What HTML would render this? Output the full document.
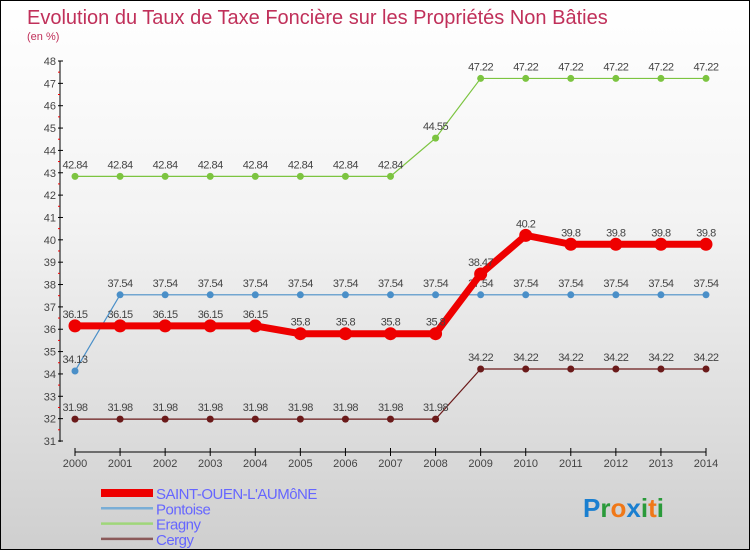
<!DOCTYPE html>
<html><head><meta charset="utf-8"><style>
body{margin:0}
#c{width:748px;height:548px;border:1px solid #000;background:linear-gradient(#fff,#f3f3f3 40%,#cfcfcf);position:relative;font-family:"Liberation Sans",sans-serif}
</style></head><body>
<div id="c">
<svg id="s" width="748" height="548">
<text x="26" y="23" font-size="20" fill="#c0305a">Evolution du Taux de Taxe Foncière sur les Propriétés Non Bâties</text>
<text x="26" y="39" font-size="11" fill="#c0305a">(en %)</text>
</svg>
</div>
<script>
const years=[2000,2001,2002,2003,2004,2005,2006,2007,2008,2009,2010,2011,2012,2013,2014];
const yTicks=[31,32,33,34,35,36,37,38,39,40,41,42,43,44,45,46,47,48];
const saintOuen=[36.15,36.15,36.15,36.15,36.15,35.8,35.8,35.8,35.8,38.47,40.2,39.8,39.8,39.8,39.8];
const pontoise=[34.13,37.54,37.54,37.54,37.54,37.54,37.54,37.54,37.54,37.54,37.54,37.54,37.54,37.54,37.54];
const eragny=[42.84,42.84,42.84,42.84,42.84,42.84,42.84,42.84,44.55,47.22,47.22,47.22,47.22,47.22,47.22];
const cergy=[31.98,31.98,31.98,31.98,31.98,31.98,31.98,31.98,31.98,34.22,34.22,34.22,34.22,34.22,34.22];
const series=[
 {name:'Cergy',d:cergy,c:'#6b1a1a',lc:'#8b5a5a',w:1.2,r:3.5,id:'cergy'},
 {name:'Eragny',d:eragny,c:'#7cc440',lc:'#9fd67a',w:1.2,r:3.5,id:'eragny'},
 {name:'Pontoise',d:pontoise,c:'#4a8fc8',lc:'#7aaed6',w:1.2,r:3.5,id:'pontoise'},
 {name:'SAINT-OUEN-L\'AUMôNE',d:saintOuen,c:'#ee0000',lc:'#ee0000',w:7,r:6.5,id:'saint-ouen'}];
const NS='http://www.w3.org/2000/svg',s=document.getElementById('s');
const X=i=>74+(705-74)*i/(years.length-1);
const Y=v=>440-(v-31)*(380/17);
function el(t,a,p){const e=document.createElementNS(NS,t);for(const k in a)e.setAttribute(k,a[k]);(p||s).appendChild(e);return e;}
const ax=el('g',{});


el('line',{x1:59,y1:60,x2:59,y2:441,stroke:'#000'},ax);
el('line',{x1:74,y1:451,x2:705,y2:451,stroke:'#000'},ax);
yTicks.forEach(v=>{const y=Y(v);el('line',{x1:57,y1:y,x2:62,y2:y,stroke:'#000'},ax);
 if(v<48)el('line',{x1:57,y1:y-11.2,x2:59,y2:y-11.2,stroke:'#e00'},ax);
 const t=el('text',{x:55,y:y+4,'font-size':11,fill:'#444','text-anchor':'end'},ax);t.textContent=v;
 
 });
years.forEach((yr,i)=>{const x=X(i);el('line',{x1:x,y1:447,x2:x,y2:455,stroke:'#000'},ax);
 const t=el('text',{x:x,y:466,'font-size':11,fill:'#444','text-anchor':'middle'},ax);t.textContent=yr;
 
 });
series.forEach(se=>{const g=el('g',{});
 
 
 el('polyline',{points:se.d.map((v,i)=>X(i)+','+Y(v)).join(' '),fill:'none',stroke:se.c,'stroke-width':se.w},g);
 se.d.forEach((v,i)=>{const c=el('circle',{cx:X(i),cy:Y(v),r:se.r,fill:se.c},g);
  
  
  const t=el('text',{x:X(i),y:Y(v)-8,'font-size':11,fill:'#444','text-anchor':'middle','letter-spacing':'-0.5'},g);
  t.textContent=String(v).replace('.','.');
  
  });});
const lg=el('g',{});


[...series].reverse().forEach((se,k)=>{const y=492+k*15.3;
 const e=el('g',{},lg);
 
 
 el('line',{x1:100,y1:y,x2:152,y2:y,stroke:se.lc,'stroke-width':k==0?8:2.5},e);
 const t=el('text',{x:155,y:y+6,'font-size':15,fill:'#6666ff','letter-spacing':'-0.5'},e);t.textContent=se.name;});
const lo=el('text',{x:582,y:516,'font-size':26,'font-weight':'bold'});


[['P','#1a7fd0'],['r','#2a9a3a'],['o','#f07818'],['x','#1a7fd0'],['i','#2a9a3a'],['t','#f07818'],['i','#2a9a3a']].forEach(([c,f])=>{const ts=el('tspan',{fill:f},lo);ts.textContent=c;});
</script>
</body></html>
